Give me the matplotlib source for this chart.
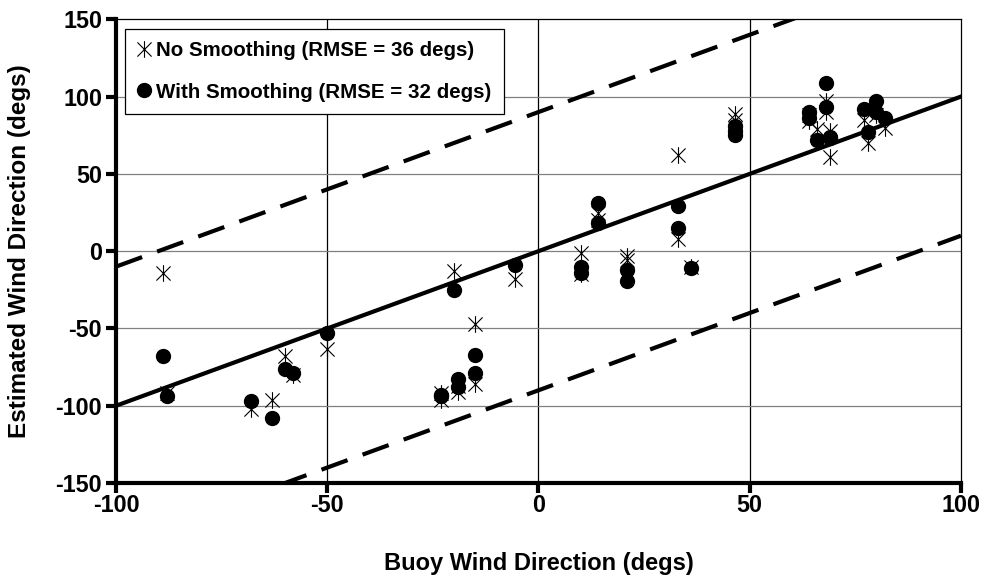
import matplotlib
matplotlib.use('Agg')
import matplotlib.pyplot as plt
from matplotlib.path import Path
import numpy as np

plt.rcParams['font.family'] = ['Liberation Sans', 'DejaVu Sans']
plt.rcParams['font.weight'] = 'bold'
plt.rcParams['axes.labelweight'] = 'bold'
plt.rcParams['axes.unicode_minus'] = False
plt.rcParams['lines.scale_dashes'] = False

# buoy wind direction (shared x for both series)
buoy = [-89, -88, -68, -63, -60, -58, -50, -23, -23, -19, -19, -15, -15, -20,
        -5.5, 10, 10, 14, 14, 21, 21, 33, 33, 36, 46.5, 46.5, 46.5, 64, 64,
        66, 68, 68, 69, 69, 77, 78, 80, 80, 82]
# estimates without smoothing
no_smooth = [-14, -92, -102, -96, -68, -80, -63, -92, -96, -87, -91, -47, -86, -13,
             -18, -1, -15, 25, 20, -3, -6, 62, 8, -10, 89, 85, 80, 84, 88,
             79, 97, 90, 78, 61, 85, 70, 93, 88, 80]
# estimates with smoothing
with_smooth = [-68, -94, -97, -108, -76, -79, -53, -94, -93, -83, -88, -67, -79, -25,
               -9, -10, -14, 31, 18, -12, -19, 29, 15, -11, 81, 75, 78, 90, 86,
               72, 109, 93, 74, 73, 92, 77, 97, 90, 86]

line_x = [-100, 100]
offset = 90

label_no = 'No Smoothing (RMSE = 36 degs)'
label_with = 'With Smoothing (RMSE = 32 degs)'

# asterisk-like marker: X plus vertical bar
star = Path([(-0.85, -0.85), (0.85, 0.85), (-0.85, 0.85), (0.85, -0.85), (0, -1), (0, 1)],
            [Path.MOVETO, Path.LINETO, Path.MOVETO, Path.LINETO, Path.MOVETO, Path.LINETO])

fig = plt.figure(figsize=(9.85, 5.8), dpi=100)
ax = fig.add_axes([0.1178, 0.1672, 0.8578, 0.7995])

ax.set_xlim(-100, 100)
ax.set_ylim(-150, 150)
ax.set_xticks([-100, -50, 0, 50, 100])
ax.set_yticks([-150, -100, -50, 0, 50, 100, 150])

for v in [-50, 0, 50]:
    ax.axvline(v, color='black', lw=0.9, zorder=0)
for v in [-100, -50, 0, 50, 100]:
    ax.axhline(v, color='#808080', lw=0.9, zorder=0)

lx = np.array(line_x)
ax.plot(lx, lx, color='black', lw=3, zorder=2)
ax.plot(lx, lx + offset, color='black', lw=3, dashes=(20, 11.5), zorder=2)
ax.plot(lx, lx - offset, color='black', lw=3, dashes=(20, 11.5), zorder=2)

ax.plot(buoy, no_smooth, linestyle='none', marker=star, markersize=12,
        markeredgecolor='black', markerfacecolor='none', markeredgewidth=0.8,
        zorder=3, label=label_no)
ax.plot(buoy, with_smooth, linestyle='none', marker='o', markersize=10,
        color='black', zorder=4, label=label_with)

for s in ['left', 'bottom']:
    ax.spines[s].set_linewidth(3)
for s in ['top', 'right']:
    ax.spines[s].set_linewidth(0.9)

ax.tick_params(axis='both', direction='out', length=7, width=3, labelsize=16.8, pad=3)
ax.tick_params(axis='x', pad=1)
ax.tick_params(top=False, right=False)

ax.set_xlabel('Buoy Wind Direction (degs)', fontsize=17, labelpad=25)
ax.set_ylabel('Estimated Wind Direction (degs)', fontsize=17.5, labelpad=18)

leg = ax.legend(loc='upper left', fontsize=14.8, frameon=True, fancybox=False,
                edgecolor='black', framealpha=1, borderaxespad=0.45,
                handlelength=0.6, handletextpad=0.3, labelspacing=1.1,
                borderpad=0.6)
leg.get_frame().set_linewidth(0.9)

fig.savefig('out.png', dpi=100, facecolor='white')
